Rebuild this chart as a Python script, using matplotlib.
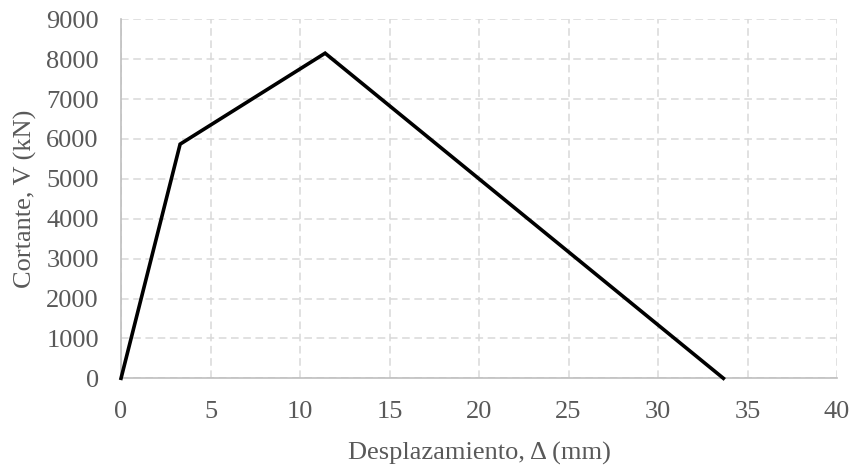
import matplotlib
matplotlib.use("Agg")
import matplotlib.pyplot as plt

# Capacity curve: shear vs. displacement
displacement_mm = [0.0, 3.3, 11.4, 33.65]
shear_kN = [0.0, 5870.0, 8150.0, 0.0]
x_ticks = [0, 5, 10, 15, 20, 25, 30, 35, 40]
y_ticks = [0, 1000, 2000, 3000, 4000, 5000, 6000, 7000, 8000, 9000]

plt.rcParams["font.family"] = ["Liberation Serif", "DejaVu Serif"]

fig = plt.figure(figsize=(8.53, 4.66), dpi=100)
ax = fig.add_axes([0.1419, 0.1882, 0.8394, 0.7704])

text_color = "#595959"
grid_color = "#d9d9d9"
fs = 19

ax.plot(displacement_mm, shear_kN, color="black", linewidth=2.6,
        solid_joinstyle="miter", zorder=3, clip_on=False)

ax.set_xlim(0, 40)
ax.set_ylim(0, 9000)
ax.set_xticks(x_ticks)
ax.set_yticks(y_ticks)
ax.tick_params(length=0, labelsize=fs, colors=text_color)
ax.tick_params(axis="y", pad=16)
ax.tick_params(axis="x", pad=16)

ax.grid(True, color=grid_color, linestyle=(0, (5, 3)), linewidth=1.1)
ax.set_axisbelow(True)

for side in ("top", "right"):
    ax.spines[side].set_visible(False)
for side in ("left", "bottom"):
    ax.spines[side].set_color("#bfbfbf")
    ax.spines[side].set_linewidth(1.2)

ax.set_xlabel("Desplazamiento, Δ (mm)", fontsize=fs, color=text_color, labelpad=14)
ax.set_ylabel("Cortante, V (kN)", fontsize=fs, color=text_color, labelpad=6.5)

fig.savefig("out.png", dpi=100)
